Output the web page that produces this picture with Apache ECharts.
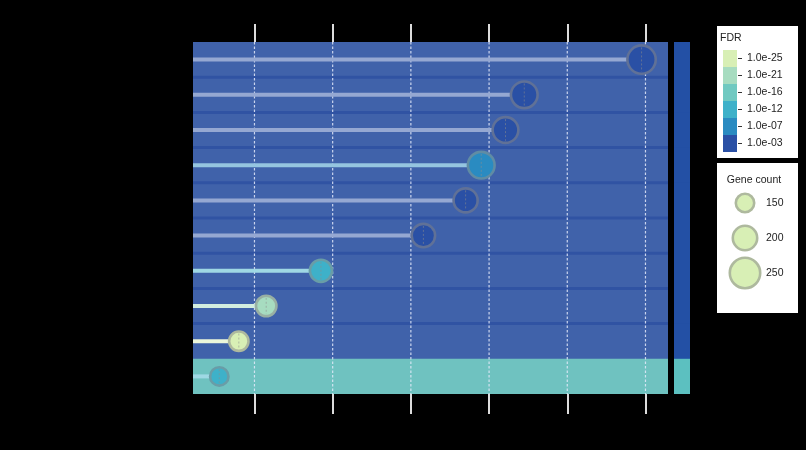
<!DOCTYPE html>
<html>
<head>
<meta charset="utf-8">
<script src="https://cdn.jsdelivr.net/npm/echarts@6/dist/echarts.min.js"></script>
<style>
html,body{margin:0;padding:0;background:#000;}
#chart{width:806px;height:450px;}
</style>
</head>
<body>
<div id="chart"></div>
<script>
// ---- data ----
const terms = ['Term 1','Term 2','Term 3','Term 4','Term 5','Term 6','Term 7','Term 8','Term 9','Term 10'];
const xValues = [5.95, 4.45, 4.21, 3.90, 3.70, 3.16, 1.85, 1.15, 0.80, 0.55];
const geneCounts = [233, 219, 211, 219, 197, 192, 181, 167, 158, 150];
const fdrValues = [1e-3, 1e-3, 1e-3, 1e-7, 1e-3, 1e-3, 1e-12, 1e-21, 1e-25, 1e-12];
const groups = [0, 0, 0, 0, 0, 0, 0, 0, 0, 1];
const xTicks = [1, 2, 3, 4, 5, 6];
const xMin = 0.214, xMax = 6.288;
const fdrLabels = ['1.0e-25', '1.0e-21', '1.0e-16', '1.0e-12', '1.0e-07', '1.0e-03'];
const fdrLevels = [25, 21, 16, 12, 7, 3];
const fdrPalette = ['#d8efb5', '#a7dcc0', '#70c9c1', '#3eb1c9', '#2a8bc1', '#2a50a5'];
const geneLegend = [150, 200, 250];
const groupBand = ['#4062aa', '#6fc2c0'];
const groupStripe = ['#3053a3', '#62bcbc'];
const groupStrip = ['#2350a5', '#5cc0c0'];

// ---- helpers ----
function hexToRgb(h){h=h.replace('#','');return [parseInt(h.substr(0,2),16),parseInt(h.substr(2,2),16),parseInt(h.substr(4,2),16)];}
function mix(hex, target, t){const a=hexToRgb(hex);const b=hexToRgb(target);
  return 'rgb('+a.map((v,i)=>Math.round(v*(1-t)+b[i]*t)).join(',')+')';}
function fdrColor(f){const v=-Math.log10(f);let best=0,bd=1e9;
  fdrLevels.forEach((l,i)=>{const d=Math.abs(l-v);if(d<bd){bd=d;best=i;}});return fdrPalette[best];}
function diam(n){return 21 + (n-150)*0.12;}
const BW = 2.6;

const chart = echarts.init(document.getElementById('chart'), null, {renderer:'canvas'});

function renderBand(params, api){
  const idx = api.value(1);
  const cs = params.coordSys;
  const yc = api.coord([xMin, idx])[1];
  const h = api.size([0, 1])[1];
  const top = yc - h/2;
  const g = groups[idx];
  const last = idx === terms.length - 1;
  const children = [
    {type:'rect', shape:{x:cs.x, y:top, width:cs.width, height:h + (last?0:1)}, style:{fill:groupBand[g]}},
    {type:'rect', shape:{x:cs.x+cs.width+6, y:top, width:16, height:h + (last?0:1)}, style:{fill:groupStrip[g]}}
  ];
  if (idx>0 && groups[idx-1]===g){
    children.push({type:'rect', shape:{x:cs.x, y:top-1.5, width:cs.width, height:3}, style:{fill:groupStripe[g]}});
  }
  return {type:'group', children};
}

function renderGrid(params, api){
  const cs = params.coordSys;
  const x = api.coord([api.value(0), 0])[0];
  return {type:'line', shape:{x1:x, y1:cs.y, x2:x, y2:cs.y+cs.height},
    style:{stroke:'rgba(228,234,250,0.85)', lineWidth:1.2, lineDash:[2.5,2]}};
}

function renderLolli(params, api){
  const idx = api.value(1);
  const p = api.coord([api.value(0), idx]);
  const p0 = api.coord([xMin, idx]);
  const col = fdrColor(api.value(3));
  const border = mix(col, '#8c8c8c', 0.55);
  const r = (diam(api.value(2)) - BW)/2;
  return {type:'group', children:[
    {type:'line', shape:{x1:p0[0], y1:p[1], x2:p[0], y2:p[1]}, style:{stroke:mix(col,'#ffffff',0.5), lineWidth:4}},
    {type:'circle', shape:{cx:p[0], cy:p[1], r:r}, style:{fill:col, stroke:border, lineWidth:BW}},
    {type:'line', shape:{x1:p[0], y1:p[1]-r+2, x2:p[0], y2:p[1]+r-2}, style:{stroke:border, lineWidth:1, lineDash:[2,2]}}
  ]};
}

// ---- legend graphics ----
const graphics = [];
const fontFam = '"Liberation Sans", Arial, sans-serif';
graphics.push({type:'rect', x:717, y:26, shape:{width:81, height:132}, style:{fill:'#ffffff'}});
graphics.push({type:'text', x:720, y:38, style:{text:'FDR', font:'10.5px '+fontFam, fill:'#222', textVerticalAlign:'middle'}});
fdrPalette.forEach((c,i)=>{
  graphics.push({type:'rect', x:723, y:50+17*i, shape:{width:14, height:17}, style:{fill:c}});
  graphics.push({type:'line', shape:{x1:738, y1:58.5+17*i, x2:742, y2:58.5+17*i}, style:{stroke:'#333', lineWidth:1}});
  graphics.push({type:'text', x:747, y:58.5+17*i, style:{text:fdrLabels[i], font:'10.5px '+fontFam, fill:'#222', textVerticalAlign:'middle'}});
});
graphics.push({type:'rect', x:717, y:163, shape:{width:81, height:150}, style:{fill:'#ffffff'}});
graphics.push({type:'text', x:754, y:180, style:{text:'Gene count', font:'10.5px '+fontFam, fill:'#222', textAlign:'center', textVerticalAlign:'middle'}});
geneLegend.forEach((n,i)=>{
  const cy = 203 + 35*i;
  const fill = fdrPalette[0];
  graphics.push({type:'circle', shape:{cx:745, cy:cy, r:(diam(n)-BW)/2}, style:{fill:fill, stroke:mix(fill,'#8c8c8c',0.55), lineWidth:BW}});
  graphics.push({type:'text', x:766, y:cy, style:{text:String(n), font:'10.5px '+fontFam, fill:'#222', textVerticalAlign:'middle'}});
});

const axisCommon = {type:'value', min:xMin, max:xMax,
  axisLine:{show:false}, axisLabel:{show:false}, splitLine:{show:false}};

chart.setOption({
  backgroundColor:'#000000',
  animation:false,
  grid:{left:193, right:138, top:42, bottom:56},
  xAxis:[
    Object.assign({}, axisCommon, {position:'bottom',
      axisTick:{show:true, customValues:xTicks, length:20, lineStyle:{color:'#dcdcdc', width:2}}}),
    Object.assign({}, axisCommon, {position:'top',
      axisTick:{show:true, customValues:xTicks, length:18, lineStyle:{color:'#dcdcdc', width:2}}})
  ],
  yAxis:{type:'category', data:terms, inverse:true,
    axisLine:{show:false}, axisTick:{show:false}, axisLabel:{show:false}, splitLine:{show:false}},
  series:[
    {type:'custom', name:'bands', z:1, clip:false, silent:true,
      data:terms.map((t,i)=>[xMin, i]), encode:{x:0, y:1}, renderItem:renderBand},
    {type:'custom', name:'grid', z:2, silent:true,
      data:xTicks.map(v=>[v, 0]), encode:{x:0, y:1}, renderItem:renderGrid},
    {type:'custom', name:'terms', z:3, clip:false, silent:true,
      data:terms.map((t,i)=>[xValues[i], i, geneCounts[i], fdrValues[i]]), encode:{x:0, y:1}, renderItem:renderLolli}
  ],
  graphic:graphics
});
</script>
</body>
</html>
